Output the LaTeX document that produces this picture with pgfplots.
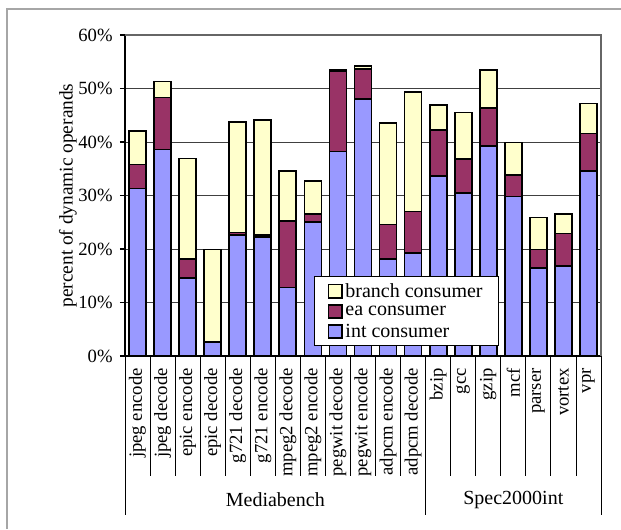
\documentclass[border=0pt]{standalone}
\usepackage{pgfplots}
\pgfplotsset{compat=1.18}
\usepackage{pgfplotstable}
\usepackage{fontspec}
\setmainfont{Liberation Serif}
\definecolor{intc}{HTML}{9999FF}
\definecolor{eac}{HTML}{993366}
\definecolor{brc}{HTML}{FFFFCC}
\pgfplotstableread{
x int ea branch
0 31.3 4.5 6.3
1 38.6 9.7 3.0
2 14.6 3.5 18.8
3 2.5 0.2 17.2
4 22.6 0.5 20.7
5 22.2 0.4 21.5
6 12.8 12.4 9.4
7 25.0 1.6 6.1
8 38.2 15.0 0.2
9 48.0 5.6 0.6
10 18.1 6.5 18.9
11 19.2 7.8 22.4
12 33.6 8.6 4.7
13 30.5 6.3 8.7
14 39.3 7.1 7.1
15 29.8 4.0 6.1
16 16.4 3.5 6.0
17 16.8 6.1 3.6
18 34.6 7.0 5.6
}\datatable
\begin{document}
\begin{tikzpicture}
\path[use as bounding box] (0,0) rectangle (465.75pt,396.75pt);
\draw[color=black!35, line width=1.5pt] (5.25pt,0) -- (5.25pt,390pt) -- (470pt,390pt);
\begin{axis}[
  at={(93.75pt,129.75pt)}, anchor=south west,
  scale only axis, width=357pt, height=240.75pt,
  ybar stacked, bar width=0.68,
  xmin=-0.5, xmax=18.5, ymin=0, ymax=60,
  axis x line*=bottom, axis y line*=left,
  axis line style={black, line width=0.8pt},
  xtick=data,
  xticklabels={jpeg encode,jpeg decode,epic encode,epic decode,g721 decode,g721 encode,mpeg2 decode,mpeg2 encode,pegwit decode,pegwit encode,adpcm encode,adpcm decode,bzip,gcc,gzip,mcf,parser,vortex,vpr},
  x tick style={draw=none},
  xticklabel style={rotate=90, anchor=east, font=\fontsize{14pt}{16pt}\selectfont, inner sep=0pt},
  xticklabel shift=9pt,
  ytick={0,10,20,30,40,50,60},
  yticklabels={0\%,10\%,20\%,30\%,40\%,50\%,60\%},
  yticklabel style={font=\fontsize{14pt}{16pt}\selectfont, xshift=-2pt},
  ytick align=outside, major tick length=3.75pt,
  y tick style={black, line width=0.8pt},
  ymajorgrids, grid style={black!75, line width=0.6pt},
  ylabel={percent of dynamic operands},
  ylabel style={at={(axis description cs:-0.12,0.5)}, anchor=center, font=\fontsize{14.5pt}{16pt}\selectfont},
  legend style={at={(0.397,0.249)}, anchor=north west, draw=black, line width=0.6pt, fill=white,
    font=\fontsize{15pt}{16pt}\selectfont, row sep=1pt, inner xsep=10pt, inner ysep=3pt},
  legend cell align=left,
  reverse legend,
  legend image code/.code={\draw[#1, line width=1.3pt] (0pt,-5pt) rectangle (10pt,5pt);},
  every axis plot/.append style={draw=black, line width=1.3pt},
  clip=false,
]
\addplot[fill=intc] table[x=x,y=int] {\datatable};
\addplot[fill=eac] table[x=x,y=ea] {\datatable};
\addplot[fill=brc] table[x=x,y=branch] {\datatable};
\legend{int consumer,ea consumer,branch consumer}
\draw[color=black!60, line width=0.8pt] (rel axis cs:0,1) -- (rel axis cs:1,1) -- (rel axis cs:1,0);
\pgfplotsinvokeforeach{0.5,1.5,2.5,3.5,4.5,5.5,6.5,7.5,8.5,9.5,10.5,12.5,13.5,14.5,15.5,16.5,17.5}{
  \draw[black, line width=0.6pt] (axis cs:#1,0) -- ++(0pt,-90pt);
}
\pgfplotsinvokeforeach{-0.5,11.5,18.5}{
  \draw[black, line width=0.6pt] (axis cs:#1,0) -- ++(0pt,-119pt);
}
\node[font=\fontsize{15pt}{17pt}\selectfont] at ([yshift=-108pt]axis cs:5.5,0) {Mediabench};
\node[font=\fontsize{15pt}{17pt}\selectfont] at ([yshift=-108pt]axis cs:15,0) {Spec2000int};
\end{axis}
\end{tikzpicture}
\end{document}
